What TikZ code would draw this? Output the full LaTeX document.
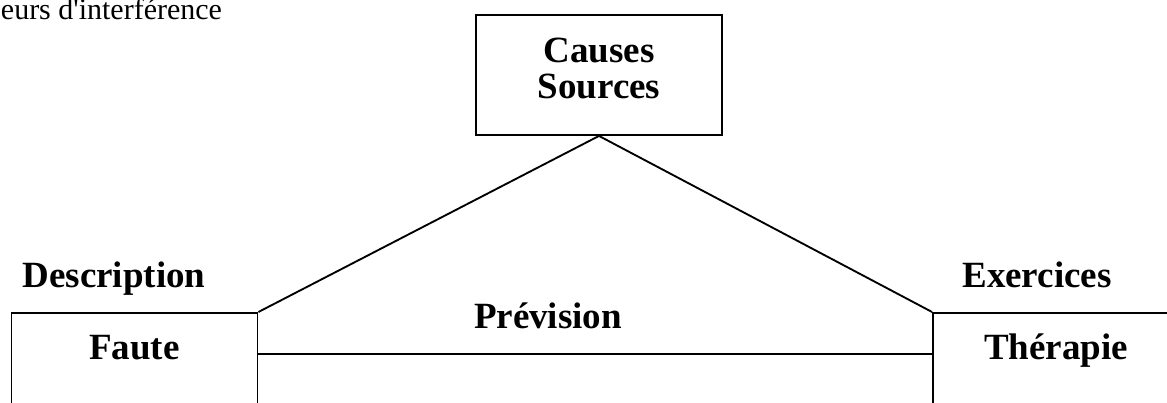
\documentclass[tikz,border=0pt]{standalone}
\usepackage{fontspec}
\setmainfont{Liberation Serif}
\begin{document}
\begin{tikzpicture}[
    x=0.75pt, y=-0.75pt,
    line width=1.4pt,
    box/.style={rectangle, draw, inner sep=0pt, minimum width=184.5pt, font=\bfseries\fontsize{27.75}{27}\selectfont},
    tag/.style={anchor=base, font=\bfseries\fontsize{27.75}{33}\selectfont}
]
    \useasboundingbox (0,0) rectangle (1167,403);
    \clip (0,0) rectangle (1167,403);
    % Top box
    \node[box, minimum height=90pt, align=center, text depth=10pt] (causes) at (599,75) {Causes\\Sources};
    % Bottom boxes
    \node[box, anchor=north, text height=35.25pt, text depth=90pt] (faute) at (134.5,312) {Faute};
    \node[box, anchor=north, text height=35.25pt, text depth=90pt] (therapie) at (1056,312) {Thérapie};
    % Labels
    \node[tag] (description) at (114,287) {Description};
    \node[tag] (prevision) at (548,328) {Prévision};
    \node[tag] (exercices) at (1037,287) {Exercices};
    \node[anchor=base west, inner sep=0pt, font=\fontsize{22.5}{26}\selectfont] (titre) at (0,20) {eurs d\textquotesingle interférence};
    % Connectors
    \coordinate (niveau) at (0,354);
    \draw (causes.south) -- (faute.north east);
    \draw (causes.south) -- (therapie.north west);
    \draw (faute.east |- niveau) -- (therapie.west |- niveau);
\end{tikzpicture}
\end{document}
